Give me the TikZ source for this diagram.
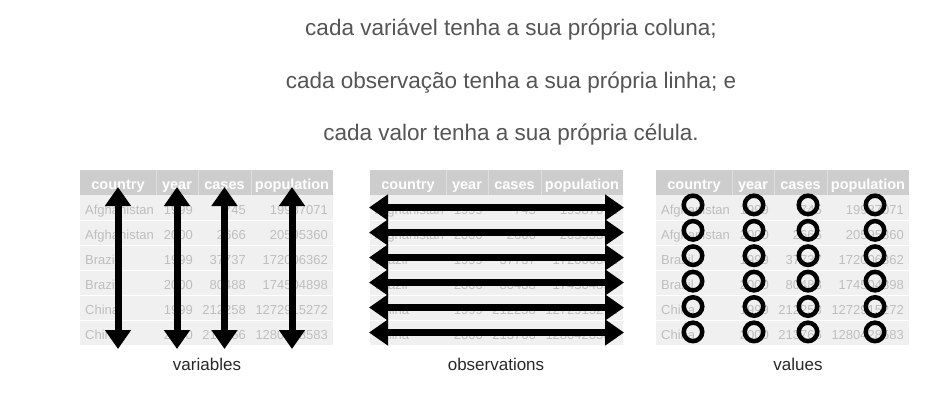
\documentclass[tikz,border=0pt]{standalone}
\usepackage{fontspec}
\setmainfont{Liberation Sans}
\usetikzlibrary{arrows.meta}
\definecolor{hdrbg}{RGB}{205,205,205}
\definecolor{hdrsep}{RGB}{222,222,222}
\definecolor{rowbg}{RGB}{240,240,240}
\definecolor{celltxt}{RGB}{190,190,190}
\definecolor{toptxt}{RGB}{85,85,85}
\definecolor{lbltxt}{RGB}{40,40,40}
\tikzset{
  toptext/.style={text=toptxt, font=\fontsize{22.5}{27}\selectfont, inner sep=0pt},
  hdr/.style={text=white, font=\fontsize{14.5}{17}\selectfont\bfseries, inner sep=0pt, anchor=base},
  cell/.style={text=celltxt, font=\fontsize{13}{15}\selectfont, inner sep=0pt},
  lbl/.style={text=lbltxt, font=\fontsize{17}{20}\selectfont, inner sep=0pt, anchor=base},
  bigarrow/.style={line width=7pt, {Triangle[width=25pt,length=19pt]}-{Triangle[width=25pt,length=19pt]}},
  ring/.style={draw=black, line width=4.5pt, circle, minimum size=18.5pt, inner sep=0pt},
}
\newcommand\mytable[2]{%
  \fill[hdrbg] (#1,170) rectangle ++(253,25);
  \fill[rowbg] (#1,195) rectangle ++(253,150);
  \foreach \k in {76,118,171} {\draw[hdrsep, line width=0.8pt] (#1+\k,170) -- (#1+\k,195);}
  \foreach \k in {1,...,5} {\draw[white, line width=1pt] (#1,195+25*\k) -- (#1+253,195+25*\k);}
  \node[hdr] (#2h1) at (#1+38,189) {country};
  \node[hdr] (#2h2) at (#1+97,189) {year};
  \node[hdr] (#2h3) at (#1+144.5,189) {cases};
  \node[hdr] (#2h4) at (#1+212,189) {population};
  \foreach \i/\c/\y/\ca/\p in {1/Afghanistan/1999/745/19987071,
      2/Afghanistan/2000/2666/20595360,
      3/Brazil/1999/37737/172006362,
      4/Brazil/2000/80488/174504898,
      5/China/1999/212258/1272915272,
      6/China/2000/213766/1280428583} {
    \node[cell, anchor=base west] (#2r\i c1) at (#1+5,189+25*\i) {\c};
    \node[cell, anchor=base east] (#2r\i c2) at (#1+113,189+25*\i) {\y};
    \node[cell, anchor=base east] (#2r\i c3) at (#1+166,189+25*\i) {\ca};
    \node[cell, anchor=base east] (#2r\i c4) at (#1+248,189+25*\i) {\p};
  }
}
\begin{document}
\begin{tikzpicture}[x=1pt,y=-1pt]
\useasboundingbox[fill=white] (0,0) rectangle (944,400);
% heading lines
\node[toptext, anchor=base] (line1) at (511,35) {cada variável tenha a sua própria coluna;};
\node[toptext, anchor=base] (line2) at (511,88) {cada observação tenha a sua própria linha; e};
\node[toptext, anchor=base] (line3) at (511,140) {cada valor tenha a sua própria célula.};
% tables
\mytable{80}{A}
\mytable{370}{B}
\mytable{656}{C}
% variables: vertical arrows
\foreach \n/\x in {1/118,2/177,3/224.5,4/292} {
  \coordinate (vtop\n) at (\x,187);
  \coordinate (vbot\n) at (\x,349);
  \draw[bigarrow] (vtop\n) -- (vbot\n);
}
% observations: horizontal arrows
\foreach \n in {1,...,6} {
  \coordinate (hl\n) at (369,182.5+25*\n);
  \coordinate (hr\n) at (624,182.5+25*\n);
  \draw[bigarrow] (hl\n) -- (hr\n);
}
% values: rings
\foreach \n in {1,...,6} {
  \foreach \m/\x in {1/693,2/754,3/808,4/875} {
    \node[ring] (v\n-\m) at (\x,179.5+25.4*\n) {};
  }
}
% labels
\node[lbl] (lblA) at (207,370) {variables};
\node[lbl] (lblB) at (496,370) {observations};
\node[lbl] (lblC) at (798,370) {values};
\end{tikzpicture}
\end{document}
